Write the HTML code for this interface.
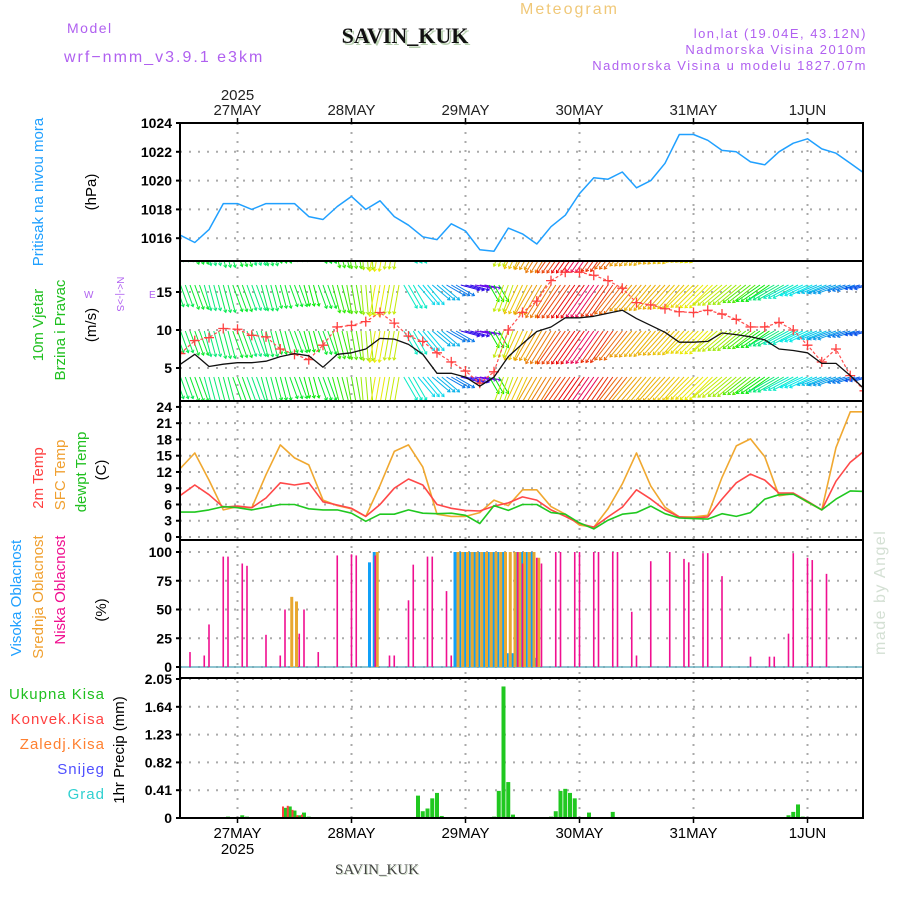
<!DOCTYPE html>
<html><head><meta charset="utf-8">
<style>
html,body{margin:0;padding:0;background:#fff;}
svg{display:block;font-family:"Liberation Sans",sans-serif;}
.tk{font-size:14px;font-weight:bold;fill:#000;text-anchor:end;}
.lab{font-size:15px;}
</style></head>
<body>
<svg id="chart" width="900" height="900" viewBox="0 0 900 900" xmlns="http://www.w3.org/2000/svg">
<defs>
<clipPath id="cp"><rect x="180" y="123" width="684" height="695"/></clipPath>
<clipPath id="cpw"><rect x="181" y="262" width="682" height="138"/></clipPath>
</defs>
<text x="67" y="33" font-size="14" fill="#b060f0" letter-spacing="1.5">Model</text>
<text x="64" y="62" font-size="16" fill="#b060f0" letter-spacing="2">wrf−nmm_v3.9.1 e3km</text>
<text x="407" y="45" font-family="Liberation Serif,serif" font-weight="bold" font-size="22" fill="#b8d0b0" text-anchor="middle">SAVIN_KUK</text>
<text x="405" y="43" font-family="Liberation Serif,serif" font-weight="bold" font-size="22" fill="#111" text-anchor="middle">SAVIN_KUK</text>
<text x="520" y="14" font-size="16" fill="#f0c878" letter-spacing="2">Meteogram</text>
<text x="867" y="38" font-size="13" fill="#b060f0" text-anchor="end" letter-spacing="1.5">lon,lat (19.04E, 43.12N)</text>
<text x="867" y="54" font-size="13" fill="#b060f0" text-anchor="end" letter-spacing="1.5">Nadmorska Visina 2010m</text>
<text x="867" y="70" font-size="13" fill="#b060f0" text-anchor="end" letter-spacing="1.5">Nadmorska Visina u modelu 1827.07m</text>
<text x="378" y="875" font-family="Liberation Serif,serif" font-size="15" fill="#c8d8c0" text-anchor="middle">SAVIN_KUK</text>
<text x="377" y="874" font-family="Liberation Serif,serif" font-size="15" fill="#444" text-anchor="middle">SAVIN_KUK</text>
<text transform="translate(885,655) rotate(-90)" font-size="16" fill="#d4e0d4" letter-spacing="1.5">made by Angel</text>

<text transform="translate(43,192) rotate(-90)" text-anchor="middle" class="lab" fill="#20a0ff">Pritisak na nivou mora</text>
<text transform="translate(96,192) rotate(-90)" text-anchor="middle" class="lab" fill="#000">(hPa)</text>
<text transform="translate(43,325) rotate(-90)" text-anchor="middle" class="lab" fill="#20c020">10m Vjetar</text>
<text transform="translate(65,330) rotate(-90)" text-anchor="middle" class="lab" fill="#20c020">Brzina i Pravac</text>
<text transform="translate(96,325) rotate(-90)" text-anchor="middle" class="lab" fill="#000">(m/s)</text>
<text transform="translate(117,294) rotate(90)" text-anchor="middle" font-size="10" fill="#b060f0">N&lt;-|-&gt;S</text>
<text x="84" y="298" font-size="10" fill="#b060f0">W</text>
<text x="149" y="298" font-size="10" fill="#b060f0">E</text>
<text transform="translate(43,478) rotate(-90)" text-anchor="middle" class="lab" fill="#ff4040">2m Temp</text>
<text transform="translate(65,475) rotate(-90)" text-anchor="middle" class="lab" fill="#f0a030">SFC Temp</text>
<text transform="translate(86,472) rotate(-90)" text-anchor="middle" class="lab" fill="#20c020">dewpt Temp</text>
<text transform="translate(106,470) rotate(-90)" text-anchor="middle" class="lab" fill="#000">(C)</text>
<text transform="translate(21,598) rotate(-90)" text-anchor="middle" class="lab" fill="#20a0ff">Visoka Oblacnost</text>
<text transform="translate(43,597) rotate(-90)" text-anchor="middle" class="lab" fill="#f0a030">Srednja Oblacnost</text>
<text transform="translate(65,590) rotate(-90)" text-anchor="middle" class="lab" fill="#f01090">Niska Oblacnost</text>
<text transform="translate(106,610) rotate(-90)" text-anchor="middle" class="lab" fill="#000">(%)</text>
<text x="105" y="699" text-anchor="end" class="lab" fill="#20c020" letter-spacing="1">Ukupna Kisa</text>
<text x="105" y="724" text-anchor="end" class="lab" fill="#ff4040" letter-spacing="1">Konvek.Kisa</text>
<text x="105" y="749" text-anchor="end" class="lab" fill="#ff8030" letter-spacing="1">Zaledj.Kisa</text>
<text x="105" y="774" text-anchor="end" class="lab" fill="#5050ff" letter-spacing="1">Snijeg</text>
<text x="105" y="799" text-anchor="end" class="lab" fill="#30d0d0" letter-spacing="1">Grad</text>
<text transform="translate(124,750) rotate(-90)" text-anchor="middle" class="lab" fill="#000">1hr Precip (mm)</text>

<g id="grid"></g>
<g id="marks" clip-path="url(#cp)"></g>
<g id="frames"></g>
<g id="axes"></g>
</svg>
<script>
const days = ["27MAY","28MAY","29MAY","30MAY","31MAY","1JUN"];
const dayHours = [12,36,60,84,108,132];
const recHours = [0,3,6,9,12,15,18,21,24,27,30,33,36,39,42,45,48,51,54,57,60,63,66,69,72,75,78,81,84,87,90,93,96,99,102,105,108,111,114,117,120,123,126,129,132,135,138,141,144];
const pressure = [1016.2,1015.7,1016.6,1018.4,1018.4,1018.0,1018.4,1018.4,1018.4,1017.5,1017.3,1018.2,1018.9,1018.0,1018.6,1017.5,1016.9,1016.1,1015.9,1017.0,1016.5,1015.2,1015.1,1016.7,1016.3,1015.6,1016.8,1017.6,1019.1,1020.2,1020.1,1020.6,1019.5,1020.0,1021.2,1023.2,1023.2,1022.8,1022.1,1022.0,1021.3,1021.1,1022.0,1022.6,1022.9,1022.2,1021.9,1021.2,1020.5];
const windSpeed = [5.5,6.8,5.2,5.5,5.7,5.7,5.9,6.5,6.9,6.6,5.1,6.8,7.0,7.5,8.9,8.8,8.1,6.8,4.3,4.3,3.8,2.6,3.8,6.5,8.2,9.8,10.4,11.6,11.6,11.8,12.2,12.6,11.5,10.6,9.7,8.4,8.4,8.5,9.6,9.4,9.1,8.7,7.5,7.3,7.0,5.6,5.6,4.0,2.2];
const windUpper = [6.9,8.6,9.0,10.2,10.1,9.3,9.1,7.5,6.8,6.1,8.0,10.4,10.6,11.1,12.3,10.9,9.2,8.5,7.0,5.8,4.6,3.0,4.5,10.0,12.3,13.8,16.5,17.6,17.6,17.2,16.5,15.5,13.6,13.3,12.8,12.4,12.3,12.6,12.1,11.4,10.4,10.4,11.0,10.0,8.0,5.8,7.5,4.0,2.0];
const windDir = [340,340,345,345,340,340,345,345,340,345,340,345,350,355,10,10,330,320,310,300,285,280,330,20,25,30,32,35,35,35,35,38,40,40,42,42,45,45,50,50,52,55,60,62,65,68,70,72,75];
const windHue = [140,130,150,140,130,150,140,130,130,120,130,110,100,80,60,70,170,185,195,210,250,265,120,70,50,40,30,15,0,340,10,25,40,45,45,50,55,60,70,80,100,120,150,170,180,190,200,210,220];
const sfcTemp = [12.7,15.5,10.5,5.0,5.6,5.4,11.5,17.0,14.6,13.3,6.8,5.8,5.2,3.8,9.5,15.8,17.0,12.9,4.2,3.8,3.8,4.5,6.8,5.8,8.7,8.7,5.6,4.2,2.2,1.8,5.2,9.8,15.5,9.4,5.5,3.7,3.7,4.0,11.0,16.8,18.1,14.8,7.6,8.0,6.4,5.0,16.5,23.1,23.1];
const temp2m = [7.7,9.6,7.8,5.5,5.7,5.4,7.2,10.0,9.6,10.0,6.5,5.9,5.3,3.8,6.0,9.0,10.7,9.6,6.0,5.3,4.9,4.8,5.7,6.3,7.4,6.8,5.0,3.8,2.5,1.8,3.7,5.5,8.7,7.0,5.0,3.7,3.5,3.7,7.0,10.0,11.6,10.5,8.1,8.1,6.6,5.0,10.3,13.8,15.9];
const dewpt = [4.6,4.6,5.0,5.6,5.4,5.0,5.5,6.0,6.0,5.2,5.0,5.0,4.4,2.9,4.2,4.2,5.0,4.4,4.3,4.4,4.0,2.5,5.8,4.9,6.0,6.0,4.5,4.2,2.6,1.5,3.1,4.2,4.5,5.7,4.3,3.5,3.4,3.3,4.3,3.8,4.5,7.0,7.8,7.9,6.5,5.0,7.0,8.5,8.4];
const lowCloudHours = [2,5,6,9,10,13,14,18,21,22,25,26,29,33,36,37,41,44,45,48,49,52,53,56,57,71,72,75,76,79,80,83,84,87,88,91,92,95,96,99,103,106,107,110,111,114,120,124,125,128,129,132,133,136];
const lowCloud = [13,10,37,96,96,90,88,28,10,50,29,50,13,97,98,97,97,10,10,58,89,96,96,66,10,100,90,95,90,100,100,100,100,100,100,100,100,48,10,92,100,94,91,99,99,79,9,9,9,29,99,95,93,81];
const midCloudHours = [23,24,41,58,59,60,61,62,63,64,65,66,67,68,69,70,71,72,73,74,75];
const midCloud = [61,57,100,100,100,100,100,100,100,100,100,100,100,100,100,100,100,100,100,100,95];
const highCloudHours = [40,41,58,59,60,61,62,63,64,65,66,67,68,69,70,71,72,73,74,75];
const highCloud = [91,100,100,100,100,100,100,100,100,100,100,100,100,12,12,100,100,100,100,8];
const precipHours = [10,13,14,22,23,24,25,26,27,50,51,52,53,54,55,66,67,68,69,70,78,79,80,81,82,83,86,91,100,128,129,130,131];
const precipTotal = [0.02,0.04,0.02,0.15,0.17,0.11,0.04,0.08,0.02,0.33,0.10,0.14,0.29,0.37,0.03,0.02,0.40,1.94,0.53,0.05,0.02,0.10,0.40,0.43,0.37,0.29,0.08,0.09,0.01,0.04,0.09,0.20,0.02];
const convHours = [22,23,24,25,26];
const convPrecip = [0.17,0.18,0.12,0.04,0.05];
const pTicks = [1016,1018,1020,1022,1024];
const wTicks = [5,10,15];
const tTicks = [0,3,6,9,12,15,18,21,24];
const cTicks = [0,25,50,75,100];
const prTicks = ["0","0.41","0.82","1.23","1.64","2.05"];

const NS="http://www.w3.org/2000/svg";
function mk(tag,attrs,parent){const e=document.createElementNS(NS,tag);for(const k in attrs)e.setAttribute(k,attrs[k]);parent.appendChild(e);return e;}
const X=h=>180.5+h*4.75;
const Yp=v=>123+(1024-v)*14.4;
const Yw=v=>330-(v-10)*7.6;
const Yt=v=>537-v*5.42;
const Yc=v=>667-v*1.15;
const Yr=v=>818-v*67.8;
const grid=document.getElementById('grid'),marks=document.getElementById('marks'),frames=document.getElementById('frames'),axes=document.getElementById('axes');
const L=180,R=863;
function hgrid(y){const l=mk('line',{x1:L,x2:R,y1:y,y2:y,stroke:'#aaa','stroke-width':2,'stroke-dasharray':'2,7'},grid);

}
function tick(y,txt){const t=mk('text',{x:172,y:y+5,class:'tk'},axes);t.textContent=txt;


const s=mk('line',{x1:176,x2:181,y1:y,y2:y,stroke:'#000','stroke-width':2},axes);

}
pTicks.forEach(v=>{hgrid(Yp(v));tick(Yp(v),String(v));});
wTicks.forEach(v=>{hgrid(Yw(v));tick(Yw(v),String(v));});
tTicks.forEach(v=>{hgrid(Yt(v));tick(Yt(v),String(v));});
cTicks.forEach(v=>{hgrid(Yc(v));tick(Yc(v),String(v));});
prTicks.forEach(v=>{const y=Yr(parseFloat(v));hgrid(y);tick(y,v);});
dayHours.forEach((h,i)=>{const x=X(h);
const g=mk('line',{x1:x,x2:x,y1:123,y2:818,stroke:'#aaa','stroke-width':2,'stroke-dasharray':'2,7'},grid);


const t1=mk('text',{x:x,y:115,'text-anchor':'middle','font-size':15,fill:'#222'},axes);t1.textContent=days[i];


const t2=mk('text',{x:x,y:838,'text-anchor':'middle','font-size':15,fill:'#000'},axes);t2.textContent=days[i];


mk('line',{x1:x,x2:x,y1:118,y2:124,stroke:'#000','stroke-width':1.5},axes);
mk('line',{x1:x,x2:x,y1:817,y2:823,stroke:'#000','stroke-width':1.5},axes);
});
const y1=mk('text',{x:X(12),y:100,'text-anchor':'middle','font-size':15,fill:'#222'},axes);y1.textContent='2025';


const y2=mk('text',{x:X(12),y:854,'text-anchor':'middle','font-size':15,fill:'#000'},axes);y2.textContent='2025';



function line(vals,fy,color,name,w){const d=vals.map((v,i)=>(i?'L':'M')+X(recHours[i]).toFixed(1)+','+fy(v).toFixed(1)).join('');
const p=mk('path',{d:d,fill:'none',stroke:color,'stroke-width':w||1.5,'stroke-linejoin':'round'},marks);

return p;}

line(pressure,Yp,'#20a0ff','pressure-line');

const wg=mk('g',{'clip-path':'url(#cpw)'},marks);


const rowTops=[240,285,331,377];
recHours.forEach((h,i)=>{
 const rad=windDir[i]*Math.PI/180, len=12+1.6*windUpper[i];
 const dx=-Math.sin(rad)*len, dy=Math.cos(rad)*len;
 const col='hsl('+windHue[i]+',95%,47%)';
 [-1,0,1].forEach(o=>{const x0=X(h+o);
  rowTops.forEach(y0=>{
   const x1=x0+dx,y1=y0+dy;
   const a=mk('path',{d:'M'+x0.toFixed(1)+','+y0+'L'+x1.toFixed(1)+','+y1.toFixed(1),stroke:col,'stroke-width':1,fill:'none'},wg);
   
   
   const ang=Math.atan2(dy,dx);
   const hd='M'+(x1-3*Math.cos(ang-0.6)).toFixed(1)+','+(y1-3*Math.sin(ang-0.6)).toFixed(1)+'L'+x1.toFixed(1)+','+y1.toFixed(1)+'L'+(x1-3*Math.cos(ang+0.6)).toFixed(1)+','+(y1-3*Math.sin(ang+0.6)).toFixed(1);
   const hh=mk('path',{d:hd,stroke:col,'stroke-width':1,fill:'none'},wg);
   
   
  });
 });
});
const up=line(windUpper,Yw,'#ff5050','upper-wind-speed-line',1.2);
up.setAttribute('stroke-dasharray','3,2');
recHours.forEach((h,i)=>{const x=X(h),y=Yw(windUpper[i]);
 const c=mk('path',{d:'M'+(x-5)+','+y+'H'+(x+5)+'M'+x+','+(y-5)+'V'+(y+5),stroke:'#ff4040','stroke-width':1.3},marks);
 
 });
line(windSpeed,Yw,'#111','wind-speed-line',1.3);

line(sfcTemp,Yt,'#f0a830','sfc-temp-line',1.6);
line(temp2m,Yt,'#ff4848','temp-2m-line',1.6);
line(dewpt,Yt,'#20c820','dewpoint-line',1.6);

const cb=mk('line',{x1:181,x2:863,y1:667,y2:667,stroke:'#6ab0c0','stroke-width':1.5},marks);


highCloudHours.forEach((h,i)=>{const b=mk('rect',{x:X(h)-2.5,y:Yc(highCloud[i]),width:3,height:667-Yc(highCloud[i]),fill:'#10a0f8'},marks);
 
 });
midCloudHours.forEach((h,i)=>{const b=mk('rect',{x:X(h)+0.5,y:Yc(midCloud[i]),width:3,height:667-Yc(midCloud[i]),fill:'#e8a830'},marks);
 
 });
lowCloudHours.forEach((h,i)=>{const b=mk('rect',{x:X(h)-0.8,y:Yc(lowCloud[i]),width:1.6,height:667-Yc(lowCloud[i]),fill:'#f01090'},marks);
 
 });

precipHours.forEach((h,i)=>{const y=Yr(precipTotal[i]);const b=mk('rect',{x:X(h)-2,y:y,width:4,height:818-y,fill:'#20c820'},marks);
 
 });
convHours.forEach((h,i)=>{const y=Yr(convPrecip[i]);const b=mk('rect',{x:X(h)-3,y:y,width:2,height:818-y,fill:'#ff4040'},marks);
 
 });

[[123,261],[261,401],[401,540],[540,678],[678,818]].forEach((p,i)=>{
 const r=mk('rect',{x:180,y:p[0],width:683,height:p[1]-p[0],fill:'none',stroke:'#000','stroke-width':2},frames);
 
 });
</script>
</body></html>
